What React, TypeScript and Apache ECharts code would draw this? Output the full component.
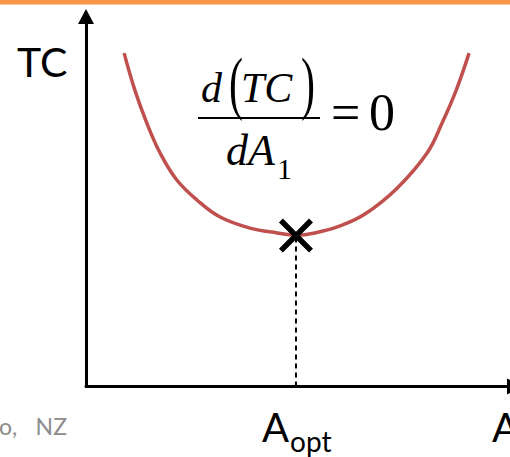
import React, { useEffect, useRef } from "react";
import * as echarts from "echarts";

// Total cost curve: quantity A (x) vs total cost TC (y), arbitrary 0-10 units
const curveA = [0.89, 1.14, 1.42, 1.73, 2.12, 2.59, 3.13, 3.83, 4.46, 4.9, 5.34, 5.93, 6.51, 7.26, 7.96, 8.31, 8.64, 8.94];
const curveTC = [9.01, 8.01, 7.12, 6.31, 5.58, 5.04, 4.58, 4.28, 4.15, 4.09, 4.15, 4.34, 4.66, 5.36, 6.31, 7.12, 8.01, 9.01];
const optimumA = [4.9];
const optimumTC = [4.08];

const SERIF = "'Liberation Serif', 'Times New Roman', serif";
const SANS = "Lato, 'Open Sans', sans-serif";

const CROSS =
  "path://M0,11.5 L11.5,0 L50,38.5 L88.5,0 L100,11.5 L61.5,50 L100,88.5 L88.5,100 L50,61.5 L11.5,100 L0,88.5 L38.5,50 Z";

export default function App() {
  const ref = useRef<HTMLDivElement>(null);
  useEffect(() => {
    if (!ref.current) return;
    const chart = echarts.init(ref.current, undefined, { renderer: "svg" });
    const curve = curveA.map((a, i) => [a, curveTC[i]]);
    const opt = [optimumA[0], optimumTC[0]];
    const txt = (text: string, x: number, y: number, font: string, size: number, extra: any = {}) => ({
      type: "text",
      x,
      y,
      silent: true,
      ...extra.el,
      style: {
        text,
        x: 0,
        y: 0,
        fill: "#000",
        font: `${extra.italic ? "italic " : ""}${size}px ${font}`,
        textAlign: extra.align || "left",
        textVerticalAlign: "middle",
        verticalAlign: "middle",
        ...(extra.style || {}),
      },
    });
    const axisCommon = {
      type: "value",
      min: 0,
      max: 10,
      axisLine: {
        show: true,
        onZero: false,
        symbol: ["none", "triangle"],
        symbolSize: [16, 15],
        lineStyle: { color: "#000", width: 3 },
      },
      axisTick: { show: false },
      axisLabel: { show: false },
      splitLine: { show: false },
    };
    chart.setOption({
      animation: false,
      grid: { left: 86, top: 16.5, width: 428.5, height: 370, containLabel: false },
      xAxis: { ...axisCommon },
      yAxis: { ...axisCommon },
      series: [
        {
          type: "line",
          data: [[opt[0], 0], opt],
          symbol: "none",
          lineStyle: { color: "#000", width: 2, type: [5, 4] },
          z: 2,
        },
        {
          type: "line",
          data: curve,
          smooth: 0.4,
          symbol: "none",
          lineStyle: { color: "#C0504D", width: 3.5 },
          z: 3,
        },
        {
          type: "scatter",
          data: [opt],
          symbol: CROSS,
          symbolSize: 34,
          itemStyle: { color: "#000", opacity: 1 },
          z: 4,
        },
      ],
      graphic: [
        { type: "rect", shape: { x: 0, y: 0, width: 540, height: 4 }, style: { fill: "#F79646" }, silent: true },
        { type: "rect", shape: { x: 0, y: 4, width: 540, height: 1 }, style: { fill: "#FAC9A0" }, silent: true },
        txt("TC", 17, 61, SANS, 41),
        txt("A", 262, 426.5, SANS, 40),
        txt("opt", 290, 440.7, SANS, 28),
        txt("A", 492, 426.5, SANS, 40),
        txt("o,", -1, 425.5, SANS, 23, { style: { fill: "#8c8c8c" } }),
        txt("NZ", 67, 425.5, SANS, 23, { align: "right", style: { fill: "#8c8c8c" } }),
        // formula d(TC)/dA1 = 0
        txt("d", 201, 88, SERIF, 42, { italic: true }),
        txt("(", 236, 82, SERIF, 42, { align: "center", el: { scaleY: 1.67 } }),
        txt("TC", 241, 88, SERIF, 42, { italic: true }),
        txt(")", 308, 82, SERIF, 42, { align: "center", el: { scaleY: 1.67 } }),
        { type: "rect", shape: { x: 198, y: 117, width: 122, height: 2 }, style: { fill: "#000" }, silent: true },
        txt("=", 331, 112.5, SERIF, 52),
        txt("0", 369, 112.5, SERIF, 52),
        txt("dA", 226, 150, SERIF, 44, { italic: true }),
        txt("1", 277, 168, SERIF, 30),
      ],
    });
    return () => chart.dispose();
  }, []);
  return (
    <div style={{ position: "absolute", left: 0, top: 0, width: 510, height: 457, overflow: "hidden" }}>
      <div ref={ref} style={{ width: 540, height: 457 }} />
    </div>
  );
}
